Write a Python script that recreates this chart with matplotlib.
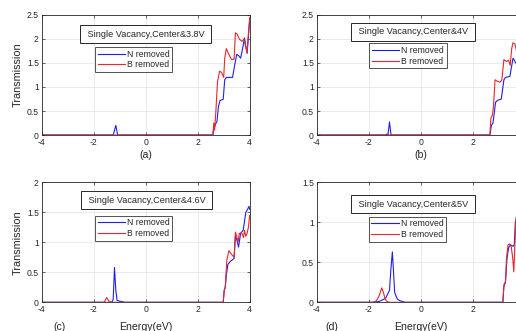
import matplotlib
matplotlib.use("Agg")
import matplotlib.pyplot as plt

plt.rcParams['font.family'] = ['Liberation Sans', 'DejaVu Sans']

# Transmission spectra, energy in eV
# (a) 3.8 V
a_n_E = [-4, -1.25, -1.15, -1.08, 2.58, 2.62, 2.68, 2.74, 2.8, 2.86, 2.98, 3.04, 3.1, 3.34, 3.42, 3.5, 3.58, 3.65, 3.72, 3.8, 3.85, 3.9, 3.95, 4.0]
a_n_T = [0, 0, 0.2, 0, 0, 0.12, 0.22, 0.28, 0.6, 0.72, 0.74, 1.15, 1.2, 1.2, 1.45, 1.68, 1.65, 1.6, 1.78, 2.02, 1.85, 1.7, 2.05, 2.4]
a_b_E = [-4, 2.58, 2.62, 2.65, 2.7, 2.76, 2.84, 2.92, 3.0, 3.04, 3.1, 3.2, 3.3, 3.4, 3.45, 3.52, 3.6, 3.7, 3.78, 3.84, 3.9, 3.95, 4.0]
a_b_T = [0, 0, 0.25, 0.1, 0.5, 1.1, 1.33, 1.3, 1.2, 1.6, 1.8, 1.68, 1.57, 1.58, 2.13, 2.1, 2.0, 1.95, 2.0, 1.85, 1.72, 2.1, 2.45]

# (b) 4 V
b_n_E = [-4, -1.35, -1.3, -1.26, -1.2, -1.14, -1.05, 2.66, 2.72, 2.78, 2.88, 2.95, 3.1, 3.2, 3.26, 3.43, 3.55, 3.6, 3.65, 3.75, 3.9, 4.0]
b_n_T = [0, 0, 0.02, 0, 0.27, 0, 0, 0, 0.2, 0.25, 0.68, 0.72, 0.75, 1.15, 1.2, 1.22, 1.6, 1.56, 1.5, 1.55, 1.6, 1.7]
b_b_E = [-4, 2.66, 2.7, 2.76, 2.8, 2.86, 2.95, 3.05, 3.12, 3.2, 3.3, 3.38, 3.44, 3.5, 3.55, 3.62, 3.7, 3.8, 4.0]
b_b_T = [0, 0, 0.35, 0.42, 0.6, 1.15, 1.12, 1.1, 1.15, 1.57, 1.53, 1.56, 1.45, 1.8, 1.92, 1.9, 1.72, 1.8, 1.9]

# (c) 4.6 V
c_n_E = [-4, -1.3, -1.25, -1.2, -1.15, -1.1, -1.0, -0.9, -0.8, 2.98, 3.02, 3.06, 3.1, 3.16, 3.25, 3.4, 3.45, 3.5, 3.57, 3.65, 3.75, 3.85, 3.92, 3.97, 4.0]
c_n_T = [0, 0, 0.05, 0.58, 0.2, 0.03, 0.02, 0.01, 0, 0, 0.2, 0.25, 0.45, 0.63, 0.68, 0.73, 1.1, 1.05, 0.92, 1.15, 1.2, 1.5, 1.55, 1.6, 1.55]
c_b_E = [-4, -1.6, -1.5, -1.42, -1.3, 2.98, 3.02, 3.06, 3.12, 3.2, 3.3, 3.4, 3.45, 3.5, 3.55, 3.6, 3.7, 3.76, 3.8, 3.85, 3.9, 3.95, 4.0]
c_b_T = [0, 0, 0.08, 0.02, 0, 0, 0.2, 0.25, 0.7, 0.86, 0.8, 0.75, 1.17, 1.1, 1.0, 1.15, 1.15, 1.08, 1.2, 1.1, 1.15, 1.25, 1.45]

# (d) 5 V
d_n_E = [-4, -1.9, -1.6, -1.35, -1.2, -1.15, -1.09, -1.04, -1.0, -0.9, -0.8, -0.6, 3.16, 3.2, 3.26, 3.32, 3.38, 3.45, 3.55, 3.6, 3.64, 3.7, 3.8, 4.0]
d_n_T = [0, 0, 0.01, 0.05, 0.15, 0.4, 0.63, 0.35, 0.12, 0.04, 0.02, 0, 0, 0.2, 0.25, 0.55, 0.68, 0.72, 0.7, 0.72, 1.0, 1.1, 1.05, 1.1]
d_b_E = [-4, -1.8, -1.7, -1.6, -1.5, -1.43, -1.37, -1.3, -1.2, 3.16, 3.2, 3.26, 3.3, 3.36, 3.42, 3.48, 3.54, 3.58, 3.62, 3.66, 3.72, 3.85, 4.0]
d_b_T = [0, 0, 0.02, 0.08, 0.18, 0.12, 0.04, 0.01, 0, 0, 0.22, 0.26, 0.55, 0.72, 0.73, 0.7, 0.55, 0.38, 0.7, 1.02, 1.05, 1.0, 1.05]

titles = ["Single Vacancy,Center&3.8V", "Single Vacancy,Center&4V",
          "Single Vacancy,Center&4.6V", "Single Vacancy,Center&5V"]
tags = ["(a)", "(b)", "(c)", "(d)"]
ymax = [2.5, 2.5, 2, 1.5]
yticks = [[0, 0.5, 1, 1.5, 2, 2.5], [0, 0.5, 1, 1.5, 2, 2.5], [0, 0.5, 1, 1.5, 2], [0, 0.5, 1, 1.5]]
ytick_labels = [["0", "0.5", "1", "1.5", "2", "2.5"], ["0", "0.5", "1", "1.5", "2", "2.5"],
                ["0", "0.5", "1", "1.5", "2"], ["0", "0.5", "1", "1.5"]]
xticks = [-4, -2, 0, 2, 4]
xtick_labels = ["-4", "-2", "0", "2", "4"]

series = [(a_n_E, a_n_T, a_b_E, a_b_T), (b_n_E, b_n_T, b_b_E, b_b_T),
          (c_n_E, c_n_T, c_b_E, c_b_T), (d_n_E, d_n_T, d_b_E, d_b_T)]

W, H = 516, 331
fig = plt.figure(figsize=(W / 100, H / 100), dpi=100)

# axes rectangles in pixels: left, top, width, height
rects = [(41.7, 15, 208, 120), (316.7, 15, 208, 120),
         (41.7, 182.3, 208, 120), (316.7, 182.3, 208, 120)]
title_pos = [(0.5, 0.84), (0.463, 0.86), (0.505, 0.85), (0.463, 0.818)]
legend_pos = [(0.256, 0.733), (0.253, 0.764), (0.256, 0.722), (0.251, 0.713)]

blue = '#1f1fe8'
red = '#e8262b'
dark = '#262626'

for i, (l, t, w, h) in enumerate(rects):
    ax = fig.add_axes([l / W, (H - t - h) / H, w / W, h / H])
    nE, nT, bE, bT = series[i]
    ax.plot(nE, nT, color=blue, lw=0.8, label='N removed')
    ax.plot(bE, bT, color=red, lw=0.8, label='B removed')
    ax.set_xlim(-4, 4)
    ax.set_ylim(0, ymax[i])
    ax.set_xticks(xticks)
    # right column runs past the figure edge, its last label is not shown
    labels = xtick_labels if i % 2 == 0 else xtick_labels[:-1] + [""]
    ax.set_xticklabels(labels)
    ax.set_yticks(yticks[i])
    ax.set_yticklabels(ytick_labels[i])
    ax.grid(True, color='#e3e3e3', lw=0.5)
    ax.set_axisbelow(True)
    ax.tick_params(direction='in', length=2, width=0.5, labelsize=6.2,
                   colors=dark, pad=2, top=True, right=True)
    for s in ax.spines.values():
        s.set_color(dark)
        s.set_linewidth(0.6)

    ax.text(title_pos[i][0], title_pos[i][1], " " + titles[i] + " ",
            transform=ax.transAxes, ha='center', va='center', fontsize=6.6,
            color=dark, bbox=dict(boxstyle='square,pad=0.5', fc='white',
                                  ec=dark, lw=0.7))
    leg = ax.legend(loc='upper left', bbox_to_anchor=legend_pos[i],
                    borderaxespad=0, fontsize=6.2, frameon=True, fancybox=False,
                    handlelength=3.2, handletextpad=0.2, borderpad=0.3,
                    labelspacing=0.2)
    leg.get_frame().set_edgecolor(dark)
    leg.get_frame().set_linewidth(0.7)
    for txt in leg.get_texts():
        txt.set_color(dark)

    if i % 2 == 0:
        ax.set_ylabel("Transmission", fontsize=7.8, color=dark)
        ax.yaxis.set_label_coords(-0.09, 0.5)

    if i < 2:
        ax.text(0.5, -0.167, tags[i], transform=ax.transAxes, ha='center',
                va='center', fontsize=7.6, color=dark)
    else:
        ax.text(0.5, -0.206, "Energy(eV)", transform=ax.transAxes, ha='center',
                va='center', fontsize=7.6, color=dark)
        ax.text((60 - 41.7) / 208 if i == 2 else (332 - 316.7) / 208, -0.206,
                tags[i], transform=ax.transAxes, ha='center', va='center',
                fontsize=7.6, color=dark)

fig.savefig("out.png", dpi=100)
